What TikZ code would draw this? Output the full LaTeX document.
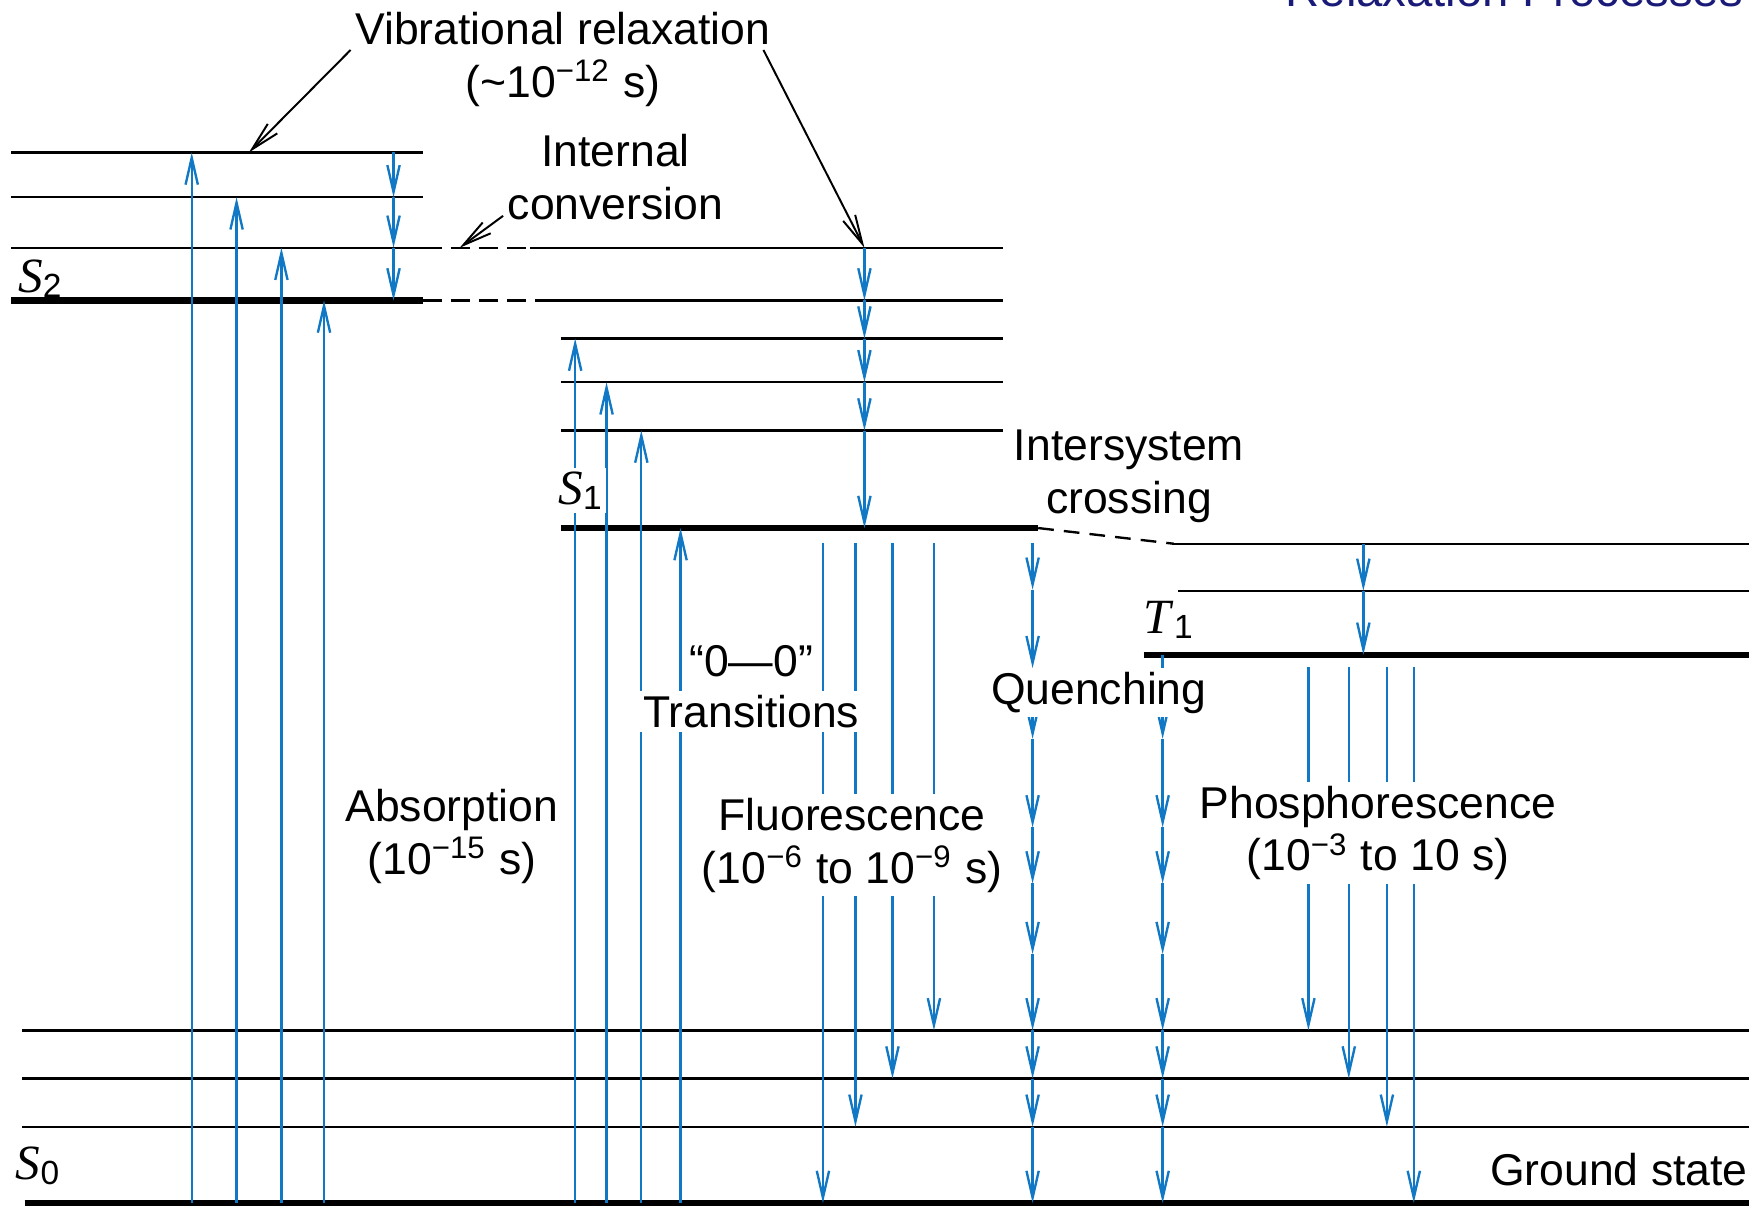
\documentclass[tikz,border=0pt]{standalone}
\usepackage{fontspec}
\setmainfont{Liberation Sans}
\newfontfamily\lvfont{Liberation Serif}
\usetikzlibrary{arrows.meta}
\definecolor{jblue}{RGB}{16,120,196}
\definecolor{navy}{RGB}{26,26,120}
\newcommand\lvname[2]{{\fontsize{12.5}{14}\selectfont\lvfont\itshape #1\/}\raisebox{-1.2pt}{\fontsize{8.5}{10}\selectfont #2}}

\begin{document}
\begin{tikzpicture}[x=0.1mm, y=-0.1mm,
  font=\fontsize{11.3}{13.3}\selectfont,
  lvl/.style={line width=0.6pt},
  gnd/.style={line width=1.6pt},
  dsh/.style={line width=0.6pt, dash pattern=on 1.7mm off 0.8mm},
  trans/.style={draw=jblue, line width=0.6pt, -{Straight Barb[length=2.4mm,width=1.1mm]}},
  note/.style={line width=0.5pt, -{Straight Barb[length=2.6mm,width=1.2mm]}},
  lbl/.style={inner sep=1pt, align=center},
  wipe/.style={lbl, fill=white}
]
\useasboundingbox (0,0) rectangle (1568,1077);
\clip (0,0) rectangle (1568,1077);

\foreach \y in {136,176,221} \draw[lvl] (10,\y) -- (377,\y);
\draw[gnd] (10,268) -- (377,268);
\draw[dsh] (377,221) -- (473,221);
\draw[dsh] (377,268) -- (490,268);
\draw[lvl] (473,221) -- (895,221);
\draw[lvl] (490,268) -- (895,268);
\foreach \y in {302,341,384} \draw[lvl] (500,\y) -- (895,\y);
\draw[gnd] (500,471) -- (926,471);
\draw[dsh, dash pattern=on 1.4mm off 0.9mm] (926,471) -- (1047,485);
\draw[lvl] (1047,485) -- (1560,485);
\draw[lvl] (1051,527) -- (1560,527);
\draw[gnd] (1020,584) -- (1560,584);
\foreach \y in {919,962,1005} \draw[lvl] (20,\y) -- (1560,\y);
\draw[gnd] (22,1073) -- (1560,1073);

\foreach \x/\y in {171/136,211/176,251/221,289/268,513/302,541/341,572/384,607/471}
  \draw[trans] (\x,1073) -- (\x,\y);
\foreach \b [remember=\b as \a (initially 136)] in {176,221,268}
  \draw[trans] (351,\a) -- (351,\b);
\foreach \b [remember=\b as \a (initially 221)] in {268,302,341,384,471}
  \draw[trans] (771,\a) -- (771,\b);
\foreach \b [remember=\b as \a (initially 485)] in {527,584}
  \draw[trans] (1216,\a) -- (1216,\b);
\foreach \x/\y in {734/1073,763/1005,796/962,833/919}
  \draw[trans] (\x,484) -- (\x,\y);
\foreach \x/\y in {1167/919,1203/962,1237/1005,1261/1073}
  \draw[trans] (\x,595) -- (\x,\y);
\foreach \b [remember=\b as \a (initially 484)] in {526,596,659,738,788,851,919,962,1005,1073}
  \draw[trans] (921,\a) -- (921,\b);
\foreach \b [remember=\b as \a (initially 584)] in {659,738,788,851,919,962,1005,1073}
  \draw[trans] (1037,\a) -- (1037,\b);

\node[lbl, anchor=base west, inner sep=0, text=navy, font=\fontsize{12}{14}\selectfont] (title) at (1146,6) {Relaxation Processes};
\node[lbl, anchor=base] (vib) at (502,40) {Vibrational relaxation};
\node[lbl, anchor=base] (vibt) at (502,87) {(\textasciitilde10\textsuperscript{−12} s)};
\node[lbl] (ic) at (549,158) {Internal\\conversion};
\node[lbl] (isc) at (1007,425) {Intersystem\\crossing};
\node[lbl] (abs) at (403,746) {Absorption\\(10\textsuperscript{−15} s)};
\node[wipe, anchor=base] (zz) at (670,603) {“0—0”};
\node[wipe, anchor=base] (tr) at (670,649) {Transitions};
\node[wipe] (fl) at (760,754) {Fluorescence\\(10\textsuperscript{−6} to 10\textsuperscript{−9} s)};
\node[wipe, anchor=base] (qu) at (980,628) {Quenching};
\node[wipe] (ph) at (1229,743) {Phosphorescence\\(10\textsuperscript{−3} to 10 s)};
\node[lbl, anchor=base east] (gs) at (1563,1057) {Ground state};

\node[lbl, anchor=base west] (s2) at (12,261) {\lvname{S}{2}};
\node[wipe, anchor=base west] (s1) at (494,450) {\lvname{S}{1}};
\node[lbl, anchor=base west] (s0) at (10,1052) {\lvname{S}{0}};
\node[lbl, anchor=base west] (t1) at (1016,565) {\lvname{T}{1}};

\coordinate (vibL) at (222,136);
\coordinate (vibR) at (771,221);
\coordinate (icT) at (410,221);
\draw[note] (vib.south west) -- (vibL);
\draw[note] (vib.-6) -- (vibR);
\draw[note] (ic.199) -- (icT);
\end{tikzpicture}
\end{document}
